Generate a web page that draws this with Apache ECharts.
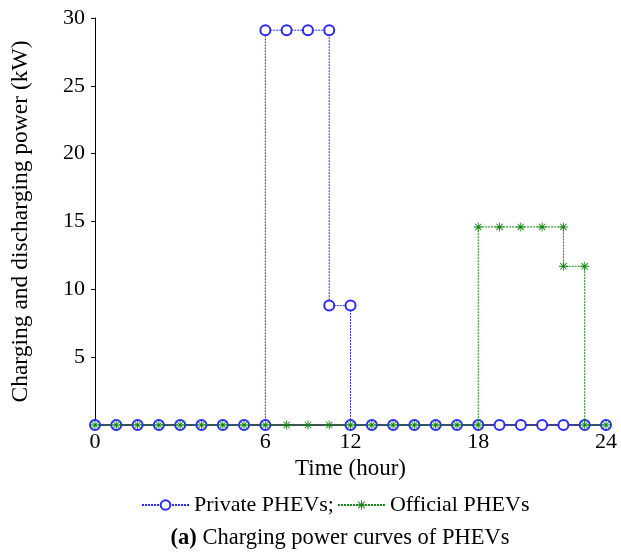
<!DOCTYPE html>
<html>
<head>
<meta charset="utf-8">
<script src="https://cdn.jsdelivr.net/npm/echarts@6/dist/echarts.min.js"></script>
<style>
  html, body { margin: 0; padding: 0; background: #fff; }
  #chart { width: 621px; height: 554px; }
</style>
</head>
<body>
<div id="chart"></div>
<script>
// 横轴刻度：位置 -> 显示文字
const tickPositions = [0, 8, 12, 18, 24];
const tickLabels = ['0', '6', '12', '18', '24'];

// 私家车
const privateHours = [0, 1, 2, 3, 4, 5, 6, 7, 8, 8, 9, 10, 11, 11, 12, 12, 13, 14, 15, 16, 17, 18, 19, 20, 21, 22, 23, 24];
const privatePower = [0, 0, 0, 0, 0, 0, 0, 0, 0, 29.1, 29.1, 29.1, 29.1, 8.8, 8.8, 0, 0, 0, 0, 0, 0, 0, 0, 0, 0, 0, 0, 0];

// 公务车
const officialHours = [0, 1, 2, 3, 4, 5, 6, 7, 8, 9, 10, 11, 12, 13, 14, 15, 16, 17, 18, 18, 19, 20, 21, 22, 22, 23, 23, 24];
const officialPower = [0, 0, 0, 0, 0, 0, 0, 0, 0, 0, 0, 0, 0, 0, 0, 0, 0, 0, 0, 14.6, 14.6, 14.6, 14.6, 14.6, 11.7, 11.7, 0, 0];

const font = 'Liberation Serif';
const starPath = 'path://M9,0L11,0L11,20L9,20Z M0,9L20,9L20,11L0,11Z M2.2,3.6L3.6,2.2L17.8,16.4L16.4,17.8Z M16.4,2.2L17.8,3.6L3.6,17.8L2.2,16.4Z';

const pairs = (xs, ys) => xs.map((x, i) => [x, ys[i]]);

const myChart = echarts.init(document.getElementById('chart'));
const option = {
    animation: false,
    textStyle: { fontFamily: font },
    grid: { left: 95, right: 15, top: 18, bottom: 129 },
    title: {
        text: '{b|(a)} Charging power curves of PHEVs',
        left: 335,
        textAlign: 'center',
        top: 522,
        textStyle: {
            fontFamily: font,
            fontSize: 22.5,
            fontWeight: 'normal',
            color: '#000',
            rich: {
                b: { fontFamily: font, fontSize: 22.5, fontWeight: 'bold', color: '#000' },
            },
        },
    },
    legend: {
        left: 136,
        top: 489,
        itemWidth: 47,
        itemHeight: 12,
        itemGap: 3,
        textStyle: { fontFamily: font, fontSize: 22, color: '#000' },
        data: ['Private PHEVs;', 'Official PHEVs'],
    },
    xAxis: {
        type: 'value',
        min: 0,
        max: 24,
        interval: 1,
        name: 'Time (hour)',
        nameLocation: 'middle',
        nameGap: 32,
        nameTextStyle: { fontFamily: font, fontSize: 23, color: '#000' },
        axisLine: { lineStyle: { color: '#0a0a30', width: 1.5 } },
        axisTick: { show: false },
        splitLine: { show: false },
        axisLabel: {
            margin: 6,
            fontFamily: font,
            fontSize: 22,
            color: '#000',
            formatter: (v) => {
                const k = tickPositions.indexOf(v);
                return k >= 0 ? tickLabels[k] : '';
            },
        },
    },
    yAxis: {
        type: 'value',
        min: 0,
        max: 30,
        interval: 5,
        name: 'Charging and discharging power (kW)',
        nameLocation: 'middle',
        nameGap: 62,
        nameTextStyle: { fontFamily: font, fontSize: 23.5, color: '#000' },
        axisLine: { show: true, lineStyle: { color: '#000', width: 1 } },
        axisTick: { show: true, length: 4, lineStyle: { color: '#000' } },
        splitLine: { show: false },
        axisLabel: {
            margin: 10,
            fontFamily: font,
            fontSize: 22,
            color: '#000',
            formatter: (v) => (v === 0 ? '' : String(v)),
        },
    },
    series: [
        {
            name: 'Private PHEVs;',
            type: 'line',
            data: pairs(privateHours, privatePower),
            symbol: 'emptyCircle',
            symbolSize: 10,
            itemStyle: { color: '#2a2aff', borderWidth: 1.2 },
            lineStyle: { color: '#2a2aff', width: 1, type: [2, 1] },
            z: 3,
        },
        {
            name: 'Official PHEVs',
            type: 'line',
            data: pairs(officialHours, officialPower),
            symbol: starPath,
            symbolSize: 9,
            itemStyle: { color: '#118811' },
            lineStyle: { color: '#118811', width: 1, type: [2, 1] },
            z: 4,
        },
    ],
};
myChart.setOption(option);
</script>
</body>
</html>
